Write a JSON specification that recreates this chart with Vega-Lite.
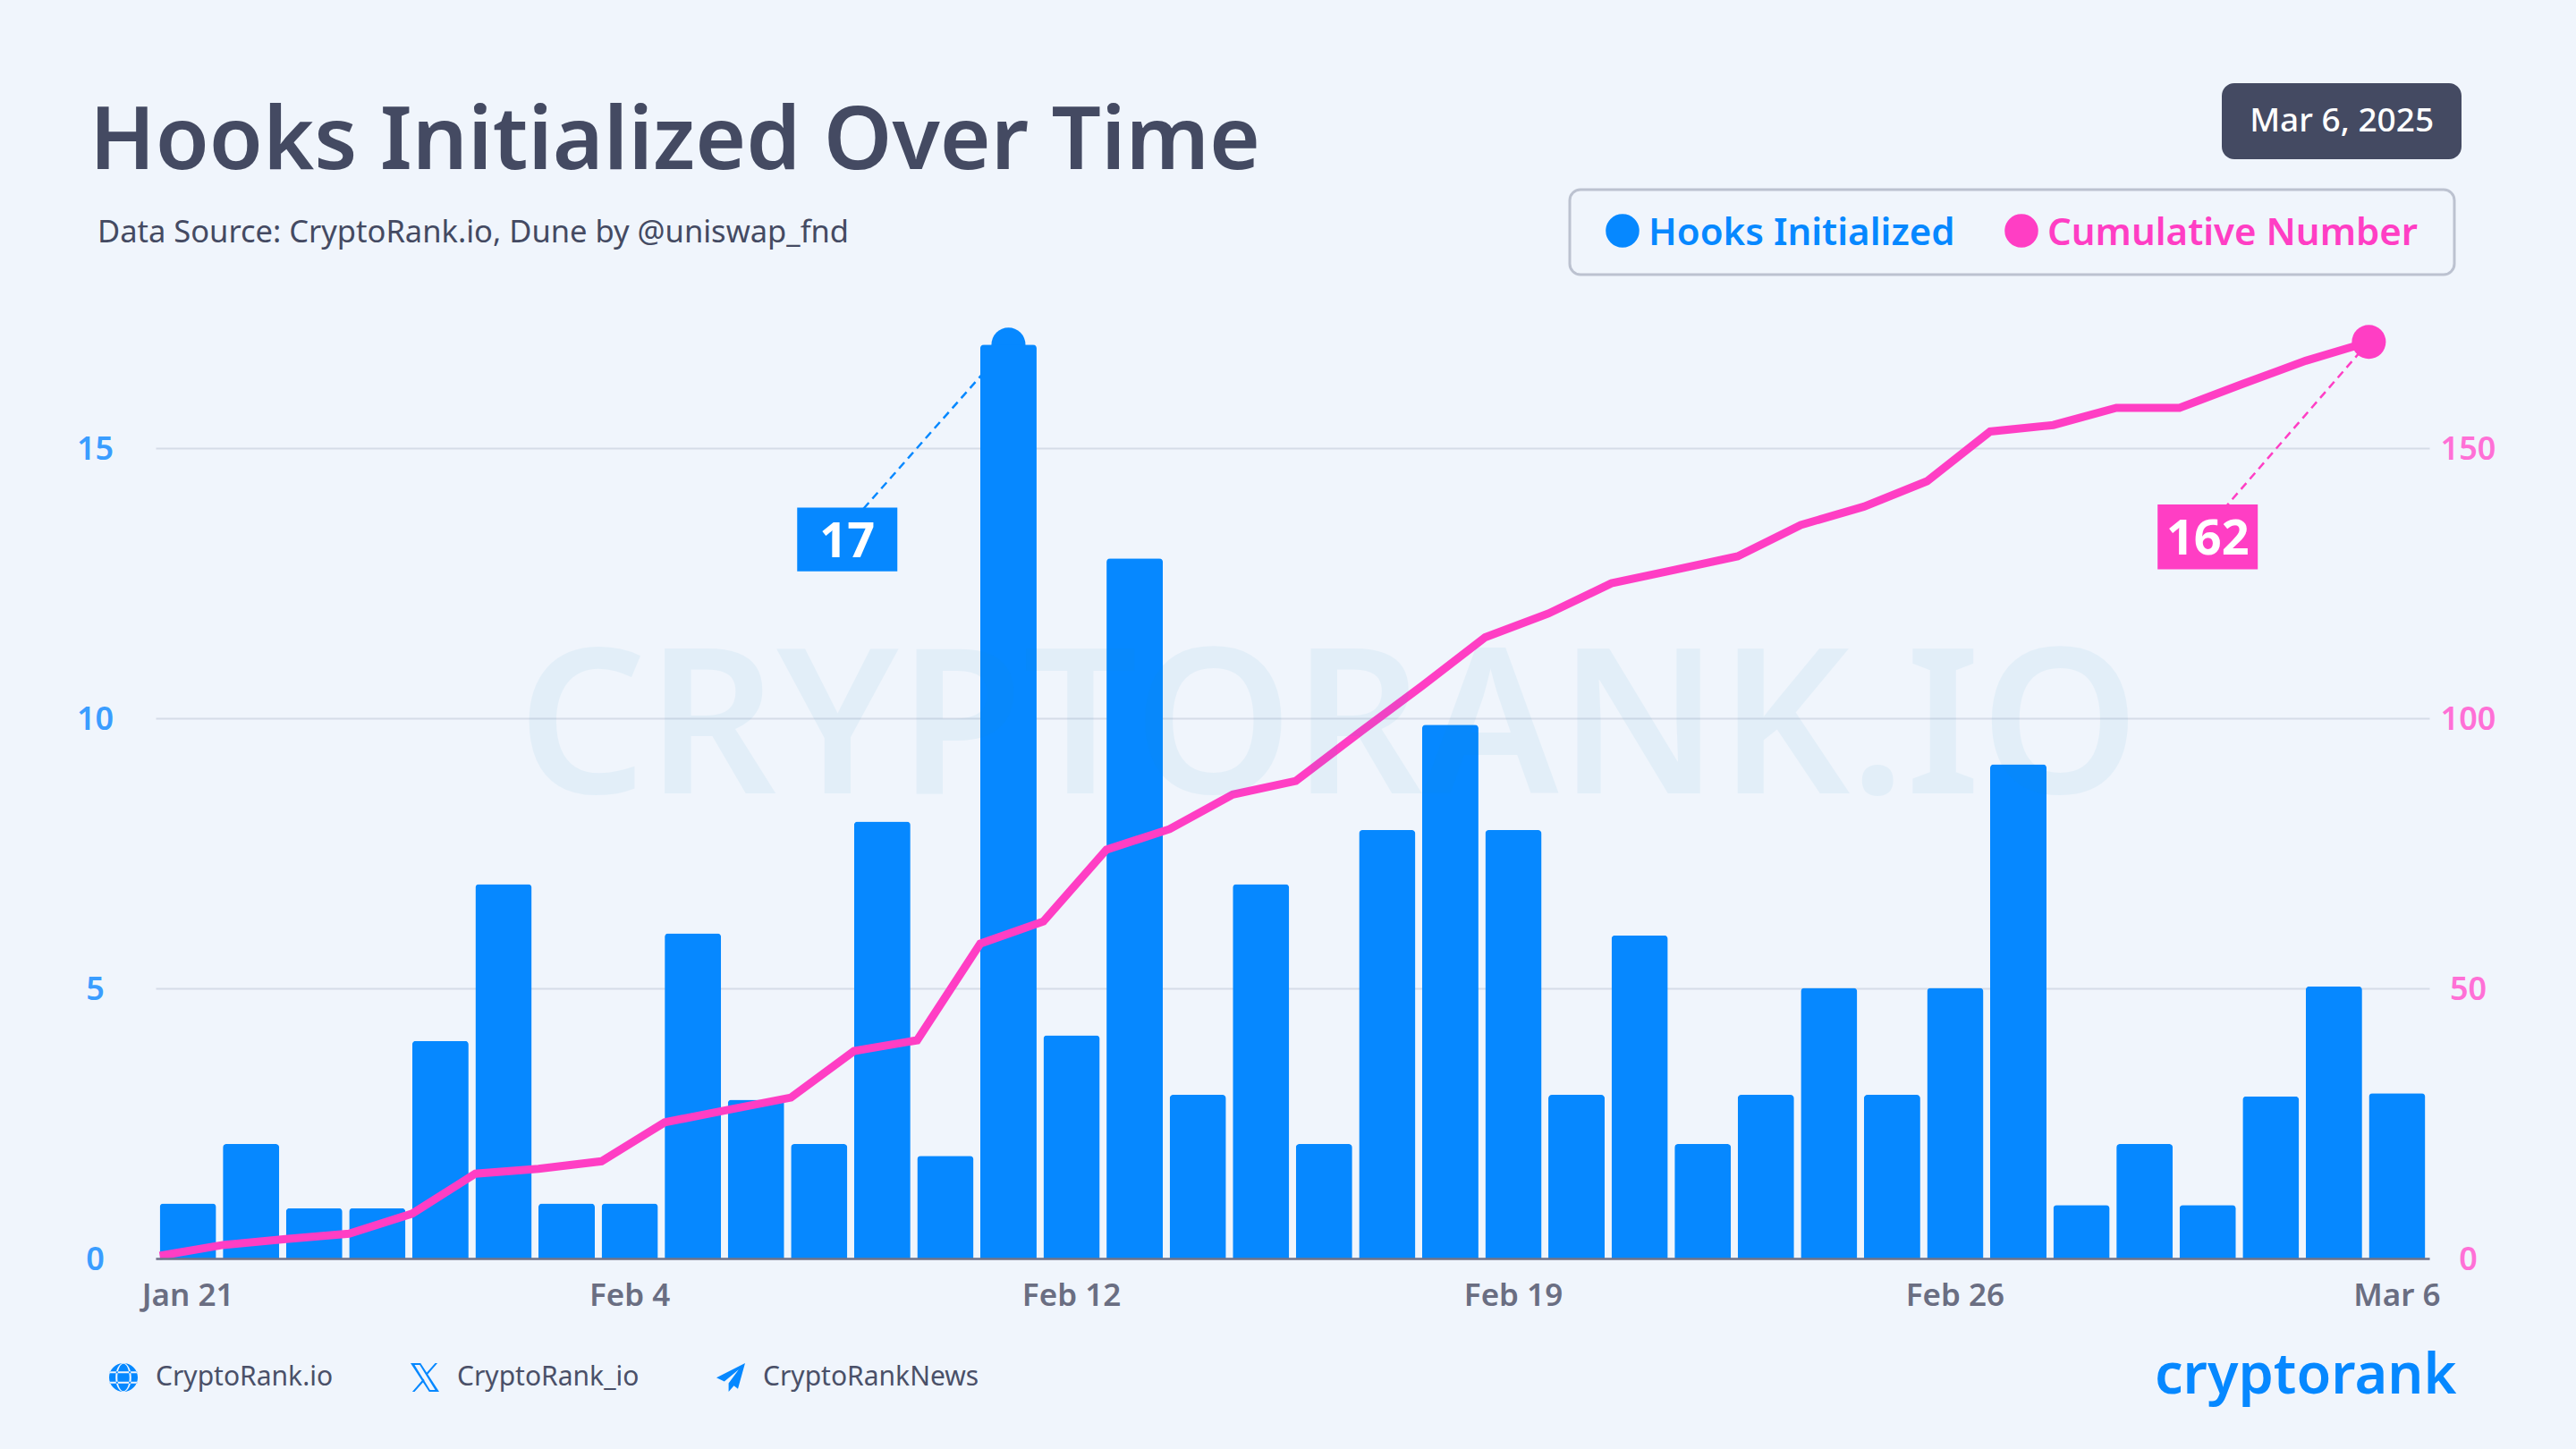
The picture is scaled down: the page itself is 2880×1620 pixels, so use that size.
{
  "$schema": "https://vega.github.io/schema/vega-lite/v6.json",
  "autosize": {"type": "none"},
  "padding": {"left": 174, "top": 320, "right": 164, "bottom": 213},
  "width": 2542,
  "height": 1087,
  "background": "#f0f5fc",
  "view": {"stroke": null},
  "config": {"font": "Noto Sans"},
  "title": {
    "text": "Hooks Initialized Over Time",
    "subtitle": "\u2060\u00a0Data Source: CryptoRank.io, Dune by @uniswap_fnd",
    "anchor": "start",
    "frame": "group",
    "dx": -74,
    "dy": 235,
    "offset": 50,
    "font": "Noto Sans",
    "fontSize": 97.5,
    "fontWeight": 600,
    "color": "#444a62",
    "subtitleFont": "Noto Sans",
    "subtitleFontSize": 34.5,
    "subtitleFontWeight": 400,
    "subtitleColor": "#444a62",
    "subtitlePadding": 34
  },
  "datasets": {
    "hooks": [
      {"day": "Jan 21", "series": "Hooks Initialized", "value": 1.02},
      {"day": "Jan 23", "series": "Hooks Initialized", "value": 2.12},
      {"day": "Jan 24", "series": "Hooks Initialized", "value": 0.93},
      {"day": "Jan 26", "series": "Hooks Initialized", "value": 0.93},
      {"day": "Jan 28", "series": "Hooks Initialized", "value": 4.03},
      {"day": "Jan 29", "series": "Hooks Initialized", "value": 6.93},
      {"day": "Feb 2", "series": "Hooks Initialized", "value": 1.02},
      {"day": "Feb 4", "series": "Hooks Initialized", "value": 1.02},
      {"day": "Feb 5", "series": "Hooks Initialized", "value": 6.02},
      {"day": "Feb 6", "series": "Hooks Initialized", "value": 2.94},
      {"day": "Feb 7", "series": "Hooks Initialized", "value": 2.12},
      {"day": "Feb 8", "series": "Hooks Initialized", "value": 8.09},
      {"day": "Feb 9", "series": "Hooks Initialized", "value": 1.9},
      {"day": "Feb 11", "series": "Hooks Initialized", "value": 16.92},
      {"day": "Feb 12", "series": "Hooks Initialized", "value": 4.13},
      {"day": "Feb 13", "series": "Hooks Initialized", "value": 12.96},
      {"day": "Feb 14", "series": "Hooks Initialized", "value": 3.03},
      {"day": "Feb 15", "series": "Hooks Initialized", "value": 6.93},
      {"day": "Feb 16", "series": "Hooks Initialized", "value": 2.12},
      {"day": "Feb 17", "series": "Hooks Initialized", "value": 7.93},
      {"day": "Feb 18", "series": "Hooks Initialized", "value": 9.88},
      {"day": "Feb 19", "series": "Hooks Initialized", "value": 7.93},
      {"day": "Feb 20", "series": "Hooks Initialized", "value": 3.03},
      {"day": "Feb 21", "series": "Hooks Initialized", "value": 5.98},
      {"day": "Feb 22", "series": "Hooks Initialized", "value": 2.12},
      {"day": "Feb 23", "series": "Hooks Initialized", "value": 3.03},
      {"day": "Feb 24", "series": "Hooks Initialized", "value": 5.01},
      {"day": "Feb 25", "series": "Hooks Initialized", "value": 3.03},
      {"day": "Feb 26", "series": "Hooks Initialized", "value": 5.01},
      {"day": "Feb 27", "series": "Hooks Initialized", "value": 9.15},
      {"day": "Feb 28", "series": "Hooks Initialized", "value": 0.99},
      {"day": "Mar 1", "series": "Hooks Initialized", "value": 2.12},
      {"day": "Mar 2", "series": "Hooks Initialized", "value": 0.99},
      {"day": "Mar 3", "series": "Hooks Initialized", "value": 3.0},
      {"day": "Mar 4", "series": "Hooks Initialized", "value": 5.04},
      {"day": "Mar 6", "series": "Hooks Initialized", "value": 3.06}
    ],
    "cumulative": [
      {"day": "Jan 21", "series": "Cumulative Number", "value": 0.5},
      {"day": "Jan 23", "series": "Cumulative Number", "value": 2.5},
      {"day": "Jan 24", "series": "Cumulative Number", "value": 3.6},
      {"day": "Jan 26", "series": "Cumulative Number", "value": 4.6},
      {"day": "Jan 28", "series": "Cumulative Number", "value": 8.3},
      {"day": "Jan 29", "series": "Cumulative Number", "value": 15.7},
      {"day": "Feb 2", "series": "Cumulative Number", "value": 16.6},
      {"day": "Feb 4", "series": "Cumulative Number", "value": 18},
      {"day": "Feb 5", "series": "Cumulative Number", "value": 25.2},
      {"day": "Feb 6", "series": "Cumulative Number", "value": 27.5},
      {"day": "Feb 7", "series": "Cumulative Number", "value": 29.8},
      {"day": "Feb 8", "series": "Cumulative Number", "value": 38.4},
      {"day": "Feb 9", "series": "Cumulative Number", "value": 40.4},
      {"day": "Feb 11", "series": "Cumulative Number", "value": 58.3},
      {"day": "Feb 12", "series": "Cumulative Number", "value": 62.4},
      {"day": "Feb 13", "series": "Cumulative Number", "value": 75.7},
      {"day": "Feb 14", "series": "Cumulative Number", "value": 79.5},
      {"day": "Feb 15", "series": "Cumulative Number", "value": 85.9},
      {"day": "Feb 16", "series": "Cumulative Number", "value": 88.4},
      {"day": "Feb 17", "series": "Cumulative Number", "value": 97.3},
      {"day": "Feb 18", "series": "Cumulative Number", "value": 106},
      {"day": "Feb 19", "series": "Cumulative Number", "value": 115},
      {"day": "Feb 20", "series": "Cumulative Number", "value": 119.4},
      {"day": "Feb 21", "series": "Cumulative Number", "value": 125},
      {"day": "Feb 22", "series": "Cumulative Number", "value": 127.5},
      {"day": "Feb 23", "series": "Cumulative Number", "value": 130},
      {"day": "Feb 24", "series": "Cumulative Number", "value": 135.8},
      {"day": "Feb 25", "series": "Cumulative Number", "value": 139.2},
      {"day": "Feb 26", "series": "Cumulative Number", "value": 143.9},
      {"day": "Feb 27", "series": "Cumulative Number", "value": 153.1},
      {"day": "Feb 28", "series": "Cumulative Number", "value": 154.3},
      {"day": "Mar 1", "series": "Cumulative Number", "value": 157.5},
      {"day": "Mar 2", "series": "Cumulative Number", "value": 157.5},
      {"day": "Mar 3", "series": "Cumulative Number", "value": 161.9},
      {"day": "Mar 4", "series": "Cumulative Number", "value": 166.2},
      {"day": "Mar 6", "series": "Cumulative Number", "value": 169.7}
    ],
    "hooksLeader": [
      {"day": "Feb 11", "value": 16.92},
      {"day": "Feb 7", "value": 12.95}
    ],
    "cumulativeLeader": [
      {"day": "Mar 6", "value": 169.7},
      {"day": "Mar 2", "value": 129.3}
    ],
    "footer": [
      {"site": "CryptoRank.io"},
      {"site": "CryptoRank_io"},
      {"site": "CryptoRankNews"}
    ],
    "stamp": [{"date": "Mar 6, 2025"}]
  },
  "encoding": {
    "x": {
      "field": "day",
      "type": "ordinal",
      "scale": {
        "type": "band",
        "paddingInner": 0.107,
        "paddingOuter": 0.065,
        "domain": ["Jan 21", "Jan 23", "Jan 24", "Jan 26", "Jan 28", "Jan 29", "Feb 2", "Feb 4", "Feb 5", "Feb 6", "Feb 7", "Feb 8", "Feb 9", "Feb 11", "Feb 12", "Feb 13", "Feb 14", "Feb 15", "Feb 16", "Feb 17", "Feb 18", "Feb 19", "Feb 20", "Feb 21", "Feb 22", "Feb 23", "Feb 24", "Feb 25", "Feb 26", "Feb 27", "Feb 28", "Mar 1", "Mar 2", "Mar 3", "Mar 4", "Mar 6"]
      },
      "axis": {
        "values": ["Jan 21", "Feb 4", "Feb 12", "Feb 19", "Feb 26", "Mar 6"],
        "labelAngle": 0,
        "labelFont": "Noto Sans",
        "labelFontSize": 35,
        "labelFontWeight": 600,
        "labelColor": "#6a6e82",
        "labelPadding": 24,
        "labelOverlap": false,
        "ticks": false,
        "domainColor": "#70748a",
        "domainWidth": 2.5,
        "zindex": 1,
        "title": "cryptorank",
        "titleFont": "Noto Sans",
        "titleFontSize": 63,
        "titleFontWeight": 600,
        "titleColor": "#0688ff",
        "titleX": 2572,
        "titleY": 150,
        "titleAlign": "right",
        "titleBaseline": "alphabetic"
      }
    }
  },
  "layer": [
    {
      "encoding": {
        "y": {
          "type": "quantitative",
          "scale": {"domain": [0, 18]},
          "axis": {
            "values": [0, 5, 10, 15],
            "title": null,
            "domain": false,
            "ticks": false,
            "grid": true,
            "gridColor": "#d5dce7",
            "gridWidth": 2,
            "labelFont": "Noto Sans",
            "labelFontSize": 36,
            "labelFontWeight": 600,
            "labelColor": "#3a9dff",
            "labelAlign": "center",
            "labelPadding": 68,
            "labelOffset": 1
          }
        }
      },
      "layer": [
        {
          "data": {"name": "hooksLeader"},
          "mark": {"type": "line", "color": "#0688ff", "strokeWidth": 2.5, "strokeDash": [9, 6]},
          "encoding": {"y": {"field": "value", "type": "quantitative"}}
        },
        {
          "data": {"name": "hooksLeader"},
          "transform": [{"filter": "datum.day == 'Feb 11'"}],
          "mark": {"type": "circle", "size": 1444, "color": "#0688ff", "opacity": 1},
          "encoding": {"y": {"field": "value", "type": "quantitative"}}
        },
        {
          "data": {"name": "hooks"},
          "mark": {"type": "bar", "cornerRadiusTopLeft": 4, "cornerRadiusTopRight": 4},
          "encoding": {
            "y": {"field": "value", "type": "quantitative"},
            "color": {
              "field": "series",
              "type": "nominal",
              "scale": {
                "domain": ["Hooks Initialized", "Cumulative Number"],
                "range": ["#0688ff", "#ff3ec4"]
              },
              "legend": {
                "orient": "none",
                "direction": "horizontal",
                "title": null,
                "legendX": 1581,
                "legendY": -108,
                "padding": 25,
                "symbolType": "circle",
                "symbolSize": 1296,
                "symbolOffset": 13,
                "labelFont": "Noto Sans",
                "labelFontSize": 42,
                "labelFontWeight": 600,
                "labelOffset": 8,
                "labelLimit": 600,
                "columnPadding": 40,
                "labelExpr": "datum.label == 'Hooks Initialized' ? datum.label : datum.label + '\u00a0\u200a\u2060'",
                "strokeColor": "#bcc2d0",
                "cornerRadius": 12,
                "encode": {
                  "labels": {"update": {"fill": {"signal": "datum.label == 'Hooks Initialized' ? '#0688ff' : '#ff3ec4'"}, "dy": {"value": 3}}},
                  "legend": {"update": {"strokeWidth": {"value": 3}}}
                }
              }
            }
          }
        },
        {
          "data": {"name": "stamp"},
          "mark": {"type": "bar", "width": 112, "xOffset": 31.5, "color": "#0688ff"},
          "encoding": {
            "x": {"datum": "Feb 7", "type": "ordinal"},
            "y": {"datum": 13.9, "type": "quantitative"},
            "y2": {"datum": 12.72}
          }
        },
        {
          "data": {"name": "stamp"},
          "mark": {"type": "text", "xOffset": 31.5, "color": "#ffffff", "fontSize": 54, "fontWeight": 700, "font": "Noto Sans"},
          "encoding": {
            "x": {"datum": "Feb 7", "type": "ordinal"},
            "y": {"datum": 13.24, "type": "quantitative"},
            "text": {"value": "17"}
          }
        },
        {
          "data": {"name": "footer"},
          "mark": {"type": "point", "filled": true, "opacity": 0, "color": "#0688ff"},
          "encoding": {
            "shape": {
              "field": "site",
              "type": "nominal",
              "scale": {
                "domain": ["CryptoRank.io", "CryptoRank_io", "CryptoRankNews"],
                "range": [
                  "M-1,0A1,1 0 1,1 1,0A1,1 0 1,1 -1,0ZM-0.95,-0.42V-0.3H0.95V-0.42ZM-0.95,0.3V0.42H0.95V0.3ZM-0.55,0A0.55,1 0 1,0 0.55,0A0.55,1 0 1,0 -0.55,0ZM-0.42,0A0.42,0.95 0 1,1 0.42,0A0.42,0.95 0 1,1 -0.42,0Z",
                  "M-1,-1H-0.3L1,1H0.3ZM-0.72,-0.88L0.36,0.88H0.72L-0.36,-0.88ZM0.72,-1H0.88L0.12,-0.12L0.04,-0.24ZM-0.72,1H-0.88L-0.1,0.1L-0.02,0.22Z",
                  "M1,-1L-1,0.02L-0.45,0.28L0.55,-0.55L-0.15,0.4V1L0.22,0.58L0.5,0.8Z"
                ]
              },
              "legend": {
                "orient": "none",
                "direction": "horizontal",
                "title": null,
                "legendX": -52,
                "legendY": 1204,
                "padding": 0,
                "symbolSize": 1024,
                "symbolFillColor": "#0688ff",
                "symbolStrokeWidth": 0,
                "symbolOpacity": 1,
                "labelFont": "Noto Sans",
                "labelFontSize": 30,
                "labelColor": "#4a5068",
                "labelOffset": 20,
                "labelLimit": 400,
                "columnPadding": 86
              }
            }
          }
        },
        {
          "data": {"name": "stamp"},
          "mark": {"type": "point", "opacity": 0},
          "encoding": {
            "strokeDash": {
              "field": "date",
              "type": "nominal",
              "scale": {"range": [[1, 0]]},
              "legend": {
                "orient": "none",
                "title": null,
                "legendX": 2310,
                "legendY": -227,
                "padding": 24,
                "symbolType": "circle",
                "symbolSize": 1,
                "symbolOpacity": 0,
                "fillColor": "#444a62",
                "cornerRadius": 14,
                "labelFont": "Noto Sans",
                "labelFontSize": 37,
                "labelFontWeight": 500,
                "labelColor": "#ffffff",
                "labelOffset": -36,
                "labelLimit": 400,
                "labelExpr": "'\u2060\u2009' + datum.label + '\u2009\u2060'",
                "encode": {"labels": {"update": {"dy": {"value": 3}}}}
              }
            }
          }
        }
      ]
    },
    {
      "encoding": {
        "y": {
          "type": "quantitative",
          "scale": {"domain": [0, 180]},
          "axis": {
            "orient": "right",
            "values": [0, 50, 100, 150],
            "title": null,
            "domain": false,
            "ticks": false,
            "grid": false,
            "labelFont": "Noto Sans",
            "labelFontSize": 36,
            "labelFontWeight": 600,
            "labelColor": "#ff70d6",
            "labelAlign": "center",
            "labelPadding": 43,
            "labelOffset": 1
          }
        }
      },
      "layer": [
        {
          "data": {"name": "cumulativeLeader"},
          "mark": {"type": "line", "color": "#ff3ec4", "strokeWidth": 2.5, "strokeDash": [9, 6]},
          "encoding": {
            "x": {"field": "day", "type": "ordinal", "bandPosition": 0},
            "y": {"field": "value", "type": "quantitative"}
          }
        },
        {
          "data": {"name": "cumulative"},
          "mark": {"type": "line", "strokeWidth": 9},
          "encoding": {
            "x": {"field": "day", "type": "ordinal", "bandPosition": 0},
            "y": {"field": "value", "type": "quantitative"},
            "color": {"field": "series", "type": "nominal", "legend": null}
          }
        },
        {
          "data": {"name": "cumulativeLeader"},
          "transform": [{"filter": "datum.day == 'Mar 6'"}],
          "mark": {"type": "circle", "size": 1444, "color": "#ff3ec4", "opacity": 1},
          "encoding": {
            "x": {"field": "day", "type": "ordinal", "bandPosition": 0},
            "y": {"field": "value", "type": "quantitative"}
          }
        },
        {
          "data": {"name": "stamp"},
          "mark": {"type": "bar", "width": 112, "color": "#ff3ec4"},
          "encoding": {
            "x": {"datum": "Mar 2", "type": "ordinal"},
            "y": {"datum": 139.6, "type": "quantitative"},
            "y2": {"datum": 127.6}
          }
        },
        {
          "data": {"name": "stamp"},
          "mark": {"type": "text", "color": "#ffffff", "fontSize": 54, "fontWeight": 700, "font": "Noto Sans"},
          "encoding": {
            "x": {"datum": "Mar 2", "type": "ordinal"},
            "y": {"datum": 133, "type": "quantitative"},
            "text": {"value": "162"}
          }
        },
        {
          "data": {"name": "stamp"},
          "mark": {"type": "text", "color": "#1791c9", "opacity": 0.06, "fontSize": 226, "fontWeight": 600, "font": "Noto Sans", "xOffset": 5},
          "encoding": {
            "x": {"datum": "Feb 16", "type": "ordinal"},
            "y": {"datum": 97.4, "type": "quantitative"},
            "text": {"value": "CRYPTORANK.IO"}
          }
        }
      ]
    }
  ],
  "resolve": {"scale": {"y": "independent"}}
}
